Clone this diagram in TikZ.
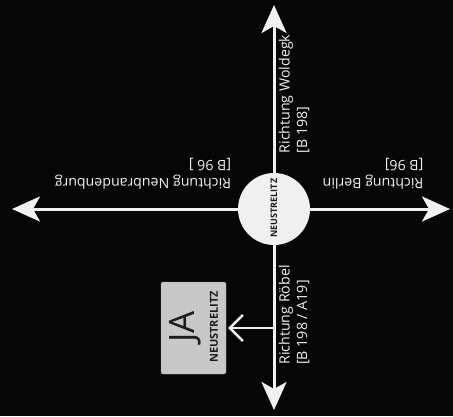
\documentclass[tikz,border=0pt]{standalone}
\usepackage{fontspec}
\setmainfont{Open Sans}
\usetikzlibrary{arrows.meta}
\definecolor{bg}{HTML}{060606}
\definecolor{ln}{HTML}{F0F0F0}
\definecolor{boxfill}{HTML}{C8C8C8}
\definecolor{boxline}{HTML}{9A9A9A}
\definecolor{boxtext}{HTML}{1E1E1E}
\tikzset{
  road/.style={draw=ln, line width=3pt, -{Stealth[length=28pt,width=25pt,inset=7pt]}},
  roadtext/.style={text=ln, font=\fontsize{14.2}{17.5}\selectfont, align=left, inner sep=0pt},
  town/.style={circle, fill=ln, minimum size=72pt, inner sep=0pt},
  sign/.style={draw=boxline, fill=boxfill, rounded corners=2pt, minimum width=65pt, minimum height=92pt, inner sep=0pt},
  exitarrow/.style={draw=ln, line width=2.5pt, -{Straight Barb[length=13pt,width=26pt]}, shorten >=2pt}
}
\begin{document}
\begin{tikzpicture}[x=1pt,y=-1pt]
\fill[bg] (0,0) rectangle (453,416);
\useasboundingbox (0,0) rectangle (453,416);
\coordinate (L) at (12,209);
\coordinate (R) at (450,209);
\coordinate (T) at (274,5);
\coordinate (B) at (274,410);
\coordinate (J) at (274,328);
\node[town] (c) at (274,209) {};
\draw[road] (c) -- (L);
\draw[road] (c) -- (R);
\draw[road] (c) -- (T);
\draw[road] (c) -- (B);
\node[rotate=90, text=boxtext, inner sep=0pt, font=\bfseries\fontsize{9}{9}\selectfont] (ct) at (274,208) {NEUSTRELITZ};
\node[roadtext, rotate=180] (nb) at (143,174) {Richtung Neubrandenburg\\{}[B 96 ]};
\node[roadtext, rotate=180] (be) at (373,174) {Richtung Berlin\\{}[B 96]};
\node[roadtext, rotate=90] (wo) at (294,94) {Richtung Woldegk\\{}[B 198]};
\node[roadtext, rotate=90] (ro) at (294,315) {Richtung Röbel\\{}[B 198 / A19]};
\node[sign] (ja) at (193.5,328) {};
\node[rotate=90, text=boxtext, inner sep=0pt, font=\fontsize{35}{36}\selectfont] (jat) at (185,327) {JA};
\node[rotate=90, text=boxtext, inner sep=0pt, font=\bfseries\fontsize{11}{12}\selectfont] (jan) at (214,327) {NEUSTRELITZ};
\draw[exitarrow] (J) -- (ja.east);
\end{tikzpicture}
\end{document}
